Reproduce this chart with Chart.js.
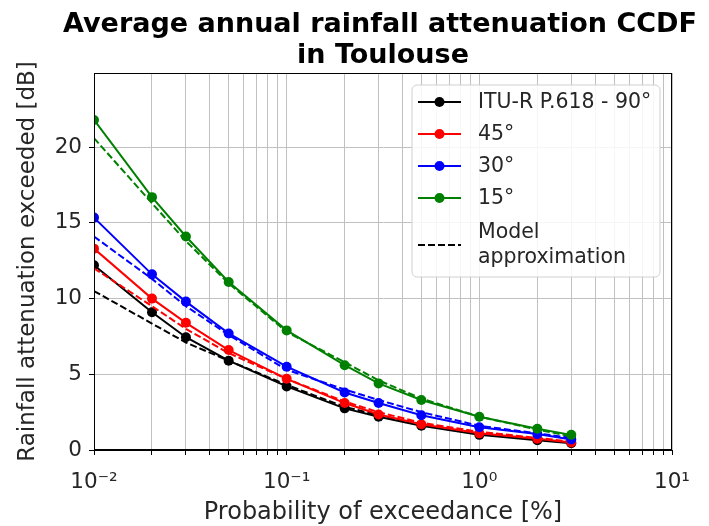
<!DOCTYPE html>
<html>

<head>
    <title>Rainfall attenuation CCDF</title>
    <script src="https://cdn.jsdelivr.net/npm/chart.js"></script>
    <style>
        body { margin: 0; background: #fff; }
        #wrap { width: 709px; height: 526px; }
    </style>
</head>

<body>
    <div id="wrap">
        <canvas id="myChart" width="709" height="526"></canvas>
    </div>

    <script>
        // probability of exceedance [%]
        var probs = [0.01, 0.02, 0.03, 0.05, 0.1, 0.2, 0.3, 0.5, 1, 2, 3];

        // ITU-R P.618 values [dB]
        var itu90 = [12.2, 9.1, 7.45, 5.9, 4.2, 2.75, 2.2, 1.6, 1.0, 0.65, 0.45];
        var itu45 = [13.3, 10.0, 8.4, 6.6, 4.7, 3.1, 2.35, 1.7, 1.1, 0.75, 0.5];
        var itu30 = [15.35, 11.6, 9.8, 7.7, 5.5, 3.8, 3.1, 2.3, 1.5, 1.05, 0.7];
        var itu15 = [21.8, 16.7, 14.1, 11.1, 7.9, 5.6, 4.4, 3.3, 2.2, 1.4, 1.0];

        // model approximation [dB]
        var model90 = [10.5, 8.35, 7.1, 5.9, 4.3, 2.85, 2.3, 1.7, 1.1, 0.7, 0.5];
        var model45 = [12.0, 9.5, 8.0, 6.4, 4.7, 3.2, 2.5, 1.8, 1.2, 0.8, 0.55];
        var model30 = [14.1, 11.3, 9.5, 7.6, 5.3, 4.0, 3.3, 2.5, 1.6, 1.1, 0.8];
        var model15 = [20.6, 16.3, 13.8, 11.0, 7.8, 5.8, 4.6, 3.4, 2.2, 1.35, 0.9];

        var xTickValues = [0.01, 0.02, 0.03, 0.04, 0.05, 0.06, 0.07, 0.08, 0.09,
            0.1, 0.2, 0.3, 0.4, 0.5, 0.6, 0.7, 0.8, 0.9,
            1, 2, 3, 4, 5, 6, 7, 8, 9, 10];
        var xTickLabels = { 0.01: '10⁻²', 0.1: '10⁻¹', 1: '10⁰', 10: '10¹' };

        var titleLines = ['Average annual rainfall attenuation CCDF', 'in Toulouse'];
        var legendLabels = ['ITU-R P.618 - 90°', '45°', '30°', '15°'];
        var colors = ['#000000', '#ff0000', '#0000ff', '#008000'];

        function pts(arr) {
            return arr.map(function (v, i) { return { x: probs[i], y: v }; });
        }

        var solid = [itu90, itu45, itu30, itu15];
        var dashed = [model90, model45, model30, model15];
        var datasets = [];
        for (var i = 0; i < 4; i++) {
            datasets.push({
                label: legendLabels[i],
                data: pts(solid[i]),
                borderColor: colors[i],
                backgroundColor: colors[i],
                borderWidth: 2,
                pointRadius: 5,
                pointBorderWidth: 0,
                order: 10 - 2 * i
            });
            datasets.push({
                label: 'model ' + legendLabels[i],
                data: pts(dashed[i]),
                borderColor: colors[i],
                borderWidth: 2,
                borderDash: [7, 3],
                pointRadius: 0,
                order: 9 - 2 * i
            });
        }

        var FONT = "'DejaVu Sans', sans-serif";

        // title, top + right spines and the legend inside the plot
        var framePlugin = {
            id: 'frame',
            afterDraw: function (chart) {
                var c = chart.ctx, a = chart.chartArea;
                c.save();
                c.strokeStyle = '#000';
                c.lineWidth = 1;
                c.strokeRect(a.left + 0.5, a.top + 0.5, a.right - a.left - 1, a.bottom - a.top - 1);

                // title (centred over the axes, like matplotlib)
                c.fillStyle = '#000';
                c.font = 'bold 27px ' + FONT;
                c.textAlign = 'center';
                c.textBaseline = 'alphabetic';
                c.fillText(titleLines[0], 380, 32);
                c.fillText(titleLines[1], 383, 63);
                c.textAlign = 'left';

                // legend box
                var bx = 412, by = 85, bw = 248, bh = 192, r = 5;
                c.beginPath();
                c.moveTo(bx + r, by);
                c.arcTo(bx + bw, by, bx + bw, by + bh, r);
                c.arcTo(bx + bw, by + bh, bx, by + bh, r);
                c.arcTo(bx, by + bh, bx, by, r);
                c.arcTo(bx, by, bx + bw, by, r);
                c.closePath();
                c.fillStyle = 'rgba(255,255,255,0.85)';
                c.fill();
                c.strokeStyle = '#d0d0d0';
                c.stroke();

                c.font = '20.5px ' + FONT;
                c.textBaseline = 'middle';
                var rows = [102, 134, 166, 198];
                for (var k = 0; k < 4; k++) {
                    c.strokeStyle = colors[k];
                    c.lineWidth = 2;
                    c.setLineDash([]);
                    c.beginPath();
                    c.moveTo(418, rows[k]);
                    c.lineTo(461, rows[k]);
                    c.stroke();
                    c.fillStyle = colors[k];
                    c.beginPath();
                    c.arc(439.5, rows[k], 5, 0, Math.PI * 2);
                    c.fill();
                    c.fillStyle = '#262626';
                    c.fillText(legendLabels[k], 478, rows[k] + 1);
                }
                c.strokeStyle = '#000';
                c.setLineDash([7, 3]);
                c.beginPath();
                c.moveTo(418, 245);
                c.lineTo(461, 245);
                c.stroke();
                c.setLineDash([]);
                c.fillStyle = '#262626';
                c.fillText('Model', 478, 233);
                c.fillText('approximation', 478, 258);
                c.restore();
            }
        };

        var ctx = document.getElementById('myChart').getContext('2d');
        var myChart = new Chart(ctx, {
            type: 'line',
            data: { datasets: datasets },
            plugins: [framePlugin],
            options: {
                responsive: false,
                animation: false,
                layout: { padding: { left: 0, right: 37, top: 73, bottom: 0 } },
                elements: { line: { tension: 0 } },
                plugins: {
                    legend: { display: false },
                    tooltip: { enabled: false },
                    title: { display: false }
                },
                scales: {
                    x: {
                        type: 'logarithmic',
                        min: 0.01,
                        max: 10,
                        afterBuildTicks: function (scale) {
                            scale.ticks = xTickValues.map(function (v) { return { value: v, major: false }; });
                        },
                        afterFit: function (scale) { scale.height = 76; },
                        ticks: {
                            autoSkip: false,
                            maxRotation: 0,
                            color: '#262626',
                            padding: 15,
                            font: { family: FONT, size: 21.5 },
                            callback: function (v) { return xTickLabels[v] || ''; }
                        },
                        grid: { color: '#c0c0c0', lineWidth: 1, tickColor: '#000', tickLength: 5 },
                        border: { color: '#000', width: 1 },
                        title: {
                            display: true,
                            text: 'Probability of exceedance [%]',
                            color: '#262626',
                            font: { family: FONT, size: 24, lineHeight: 1.1 },
                            padding: { top: 0, bottom: 0 }
                        }
                    },
                    y: {
                        min: 0,
                        max: 24.9,
                        afterFit: function (scale) { scale.width = 94; },
                        ticks: {
                            stepSize: 5,
                            includeBounds: false,
                            color: '#262626',
                            padding: 7,
                            font: { family: FONT, size: 21.5 }
                        },
                        grid: { color: '#c0c0c0', lineWidth: 1, tickColor: '#000', tickLength: 5 },
                        border: { color: '#000', width: 1 },
                        title: {
                            display: true,
                            text: 'Rainfall attenuation exceeded [dB]',
                            color: '#262626',
                            font: { family: FONT, size: 23, lineHeight: 1.1 },
                            padding: { top: 15, bottom: 0 }
                        }
                    }
                }
            }
        });
    </script>

</body>

</html>
